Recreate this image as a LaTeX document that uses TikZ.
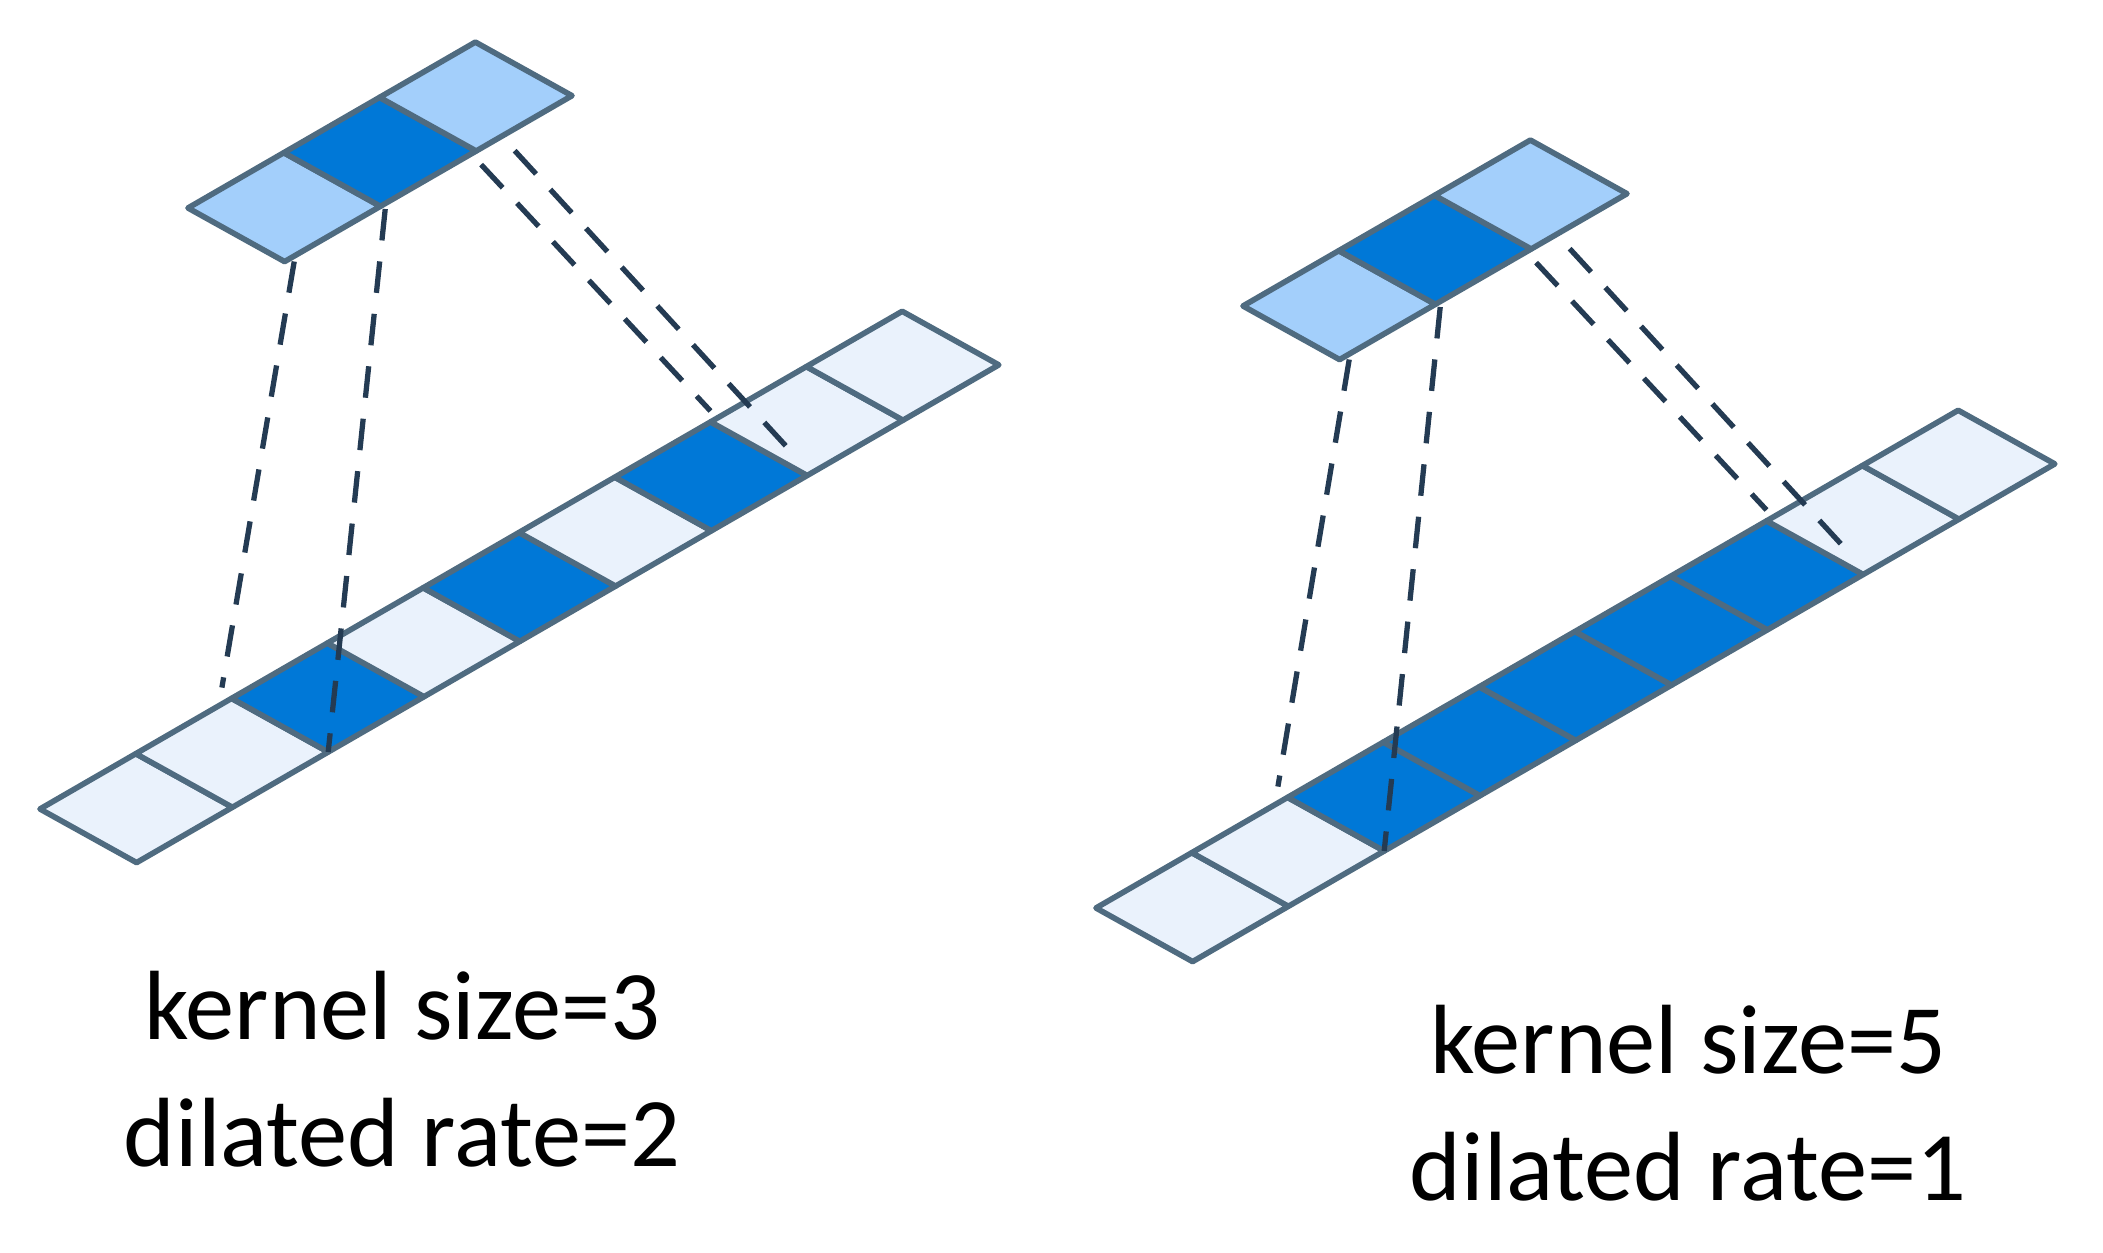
\documentclass[tikz,border=0pt]{standalone}
\usepackage{fontspec}
\setmainfont{Carlito}
\definecolor{cellDark}{HTML}{0078D7}
\definecolor{cellMid}{HTML}{A3CFFB}
\definecolor{cellLight}{HTML}{EAF2FC}
\definecolor{cellEdge}{HTML}{4F6B80}
\definecolor{dashEdge}{HTML}{243B53}
\tikzset{
  cell/.style={draw=cellEdge, line width=1.6pt, line join=round},
  link/.style={draw=dashEdge, line width=1.5pt, dash pattern=on 9pt off 6pt},
  caption/.style={font=\fontsize{28}{36}\selectfont, align=center},
  frame/.style={x={(0.958cm,0.553cm)}, y={(0.966cm,-0.536cm)}}
}
% one parallelogram cell: #1 fill, #2 index
\newcommand{\cellbox}[2]{\filldraw[cell, fill=#1] (#2-1,0) -- (#2,0) -- (#2,1) -- (#2-1,1) -- cycle;}
\begin{document}
\begin{tikzpicture}
				\useasboundingbox (0,0) rectangle (21.03,-12.53);
				% left: kernel size 3, rate 2
				\begin{scope}[shift={(1.88,-2.08)}, frame]
					\foreach \i/\c in {1/cellMid,2/cellDark,3/cellMid} {\cellbox{\c}{\i}}
					\coordinate (kA1) at (0.05,1.05); \coordinate (kA2) at (1,1.05);
					\coordinate (kA3) at (1.9,1.15); \coordinate (kA4) at (2.2,1.2);
				\end{scope}
				\begin{scope}[shift={(0.40,-8.09)}, frame]
					\foreach \i/\c in {1/cellLight,2/cellLight,3/cellDark,4/cellLight,5/cellDark,6/cellLight,7/cellDark,8/cellLight,9/cellLight} {\cellbox{\c}{\i}}
					\coordinate (sA1) at (2.05,-0.15); \coordinate (sA2) at (2,1);
					\coordinate (sA3) at (7.1,-0.1); \coordinate (sA4) at (7.14,0.69);
				\end{scope}
				\draw[link] (kA1) -- (sA1);
				\draw[link] (kA2) -- (sA2);
				\draw[link] (kA3) -- (sA3);
				\draw[link] (kA4) -- (sA4);
				% right: kernel size 5, rate 1
				\begin{scope}[shift={(12.43,-3.06)}, frame]
					\foreach \i/\c in {1/cellMid,2/cellDark,3/cellMid} {\cellbox{\c}{\i}}
					\coordinate (kB1) at (0.05,1.05); \coordinate (kB2) at (1,1.05);
					\coordinate (kB3) at (1.9,1.15); \coordinate (kB4) at (2.2,1.2);
				\end{scope}
				\begin{scope}[shift={(10.96,-9.08)}, frame]
					\foreach \i/\c in {1/cellLight,2/cellLight,3/cellDark,4/cellDark,5/cellDark,6/cellDark,7/cellDark,8/cellLight,9/cellLight} {\cellbox{\c}{\i}}
					\coordinate (sB1) at (2.05,-0.15); \coordinate (sB2) at (2,1);
					\coordinate (sB3) at (7.1,-0.1); \coordinate (sB4) at (7.14,0.69);
				\end{scope}
				\draw[link] (kB1) -- (sB1);
				\draw[link] (kB2) -- (sB2);
				\draw[link] (kB3) -- (sB3);
				\draw[link] (kB4) -- (sB4);
				% captions
				\node[caption] (capA) at (4.02,-10.69) {kernel size=3\\dilated rate=2};
				\node[caption] (capB) at (16.88,-11.03) {kernel size=5\\dilated rate=1};
\end{tikzpicture}
\end{document}
